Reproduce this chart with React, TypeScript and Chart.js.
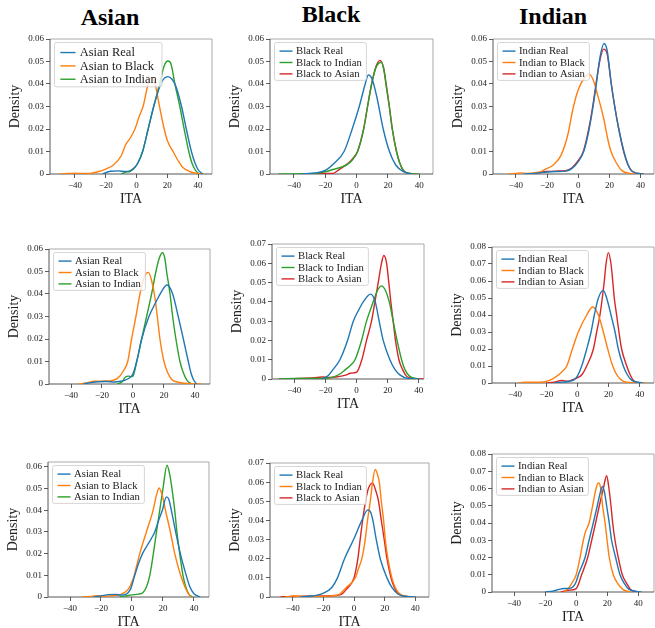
import React, { useEffect, useRef } from "react";
import { Chart, registerables } from "chart.js";

Chart.register(...registerables);

type Pt = [number, number];

// ---------- labels ----------
const columnTitles = ["Asian", "Black", "Indian"];
const asianLabels = ["Asian Real", "Asian to Black", "Asian to Indian"];
const blackLabels = ["Black Real", "Black to Indian", "Black to Asian"];
const indianLabels = ["Indian Real", "Indian to Black", "Indian to Asian"];
const xAxisLabel = "ITA";
const yAxisLabel = "Density";
const xTickStep = 20;
const yTickStep = 0.01;

// ---------- row 1 ----------
const asian1Real: Pt[] = [[-22, 0], [-17, 0.0012], [-12, 0.0014], [-7, 0.0011], [-4, 0.0015], [-1, 0.003], [1, 0.005], [4, 0.01], [7.6, 0.02], [11.2, 0.03], [15.8, 0.04], [18, 0.0425], [20.5, 0.0433], [23, 0.0422], [25.6, 0.039], [29.3, 0.03], [32.4, 0.02], [35.7, 0.01], [38, 0.005], [40, 0.002], [43, 0]];
const asian1ToBlack: Pt[] = [[-50, 0], [-45, 0.0002], [-40, 0.0004], [-35, 0.0002], [-30, 0.0003], [-25, 0.001], [-20, 0.0022], [-15, 0.004], [-10, 0.008], [-7, 0.013], [-4, 0.016], [-1, 0.02], [2, 0.026], [4.3, 0.03], [7.6, 0.04], [10, 0.0425], [12, 0.0405], [13.6, 0.035], [14.7, 0.031], [17.7, 0.021], [20, 0.015], [23.8, 0.01], [27, 0.006], [30, 0.003], [35, 0.001], [40, 0.0002], [44, 0]];
const asian1ToIndian: Pt[] = [[-10, 0], [-7, 0.0008], [-4, 0.0012], [-1, 0.003], [1, 0.005], [4, 0.01], [7.6, 0.02], [11.2, 0.03], [15, 0.04], [18, 0.048], [20.5, 0.0502], [22.5, 0.0488], [25, 0.04], [28.2, 0.03], [31, 0.02], [34, 0.01], [36, 0.005], [38.5, 0.0015], [41, 0]];

const black1Real: Pt[] = [[-35, 0], [-30, 0.0003], [-25, 0.0006], [-20, 0.0016], [-14, 0.005], [-8, 0.01], [-2.8, 0.02], [1.7, 0.03], [5.5, 0.04], [7.5, 0.044], [10, 0.042], [13, 0.034], [17, 0.02], [21, 0.01], [25, 0.004], [30, 0.001], [35, 0]];
const black1ToIndian: Pt[] = [[-50, 0], [-35, 0.0001], [-25, 0.0004], [-20, 0.001], [-15, 0.002], [-10, 0.003], [-6, 0.0042], [-3, 0.006], [0.6, 0.01], [4.5, 0.02], [7, 0.03], [9.6, 0.04], [12.5, 0.0475], [15.8, 0.0497], [17.5, 0.046], [18.7, 0.04], [20.9, 0.03], [22.8, 0.02], [25.5, 0.01], [27.5, 0.005], [30, 0.0015], [34, 0.0002], [40, 0]];
const black1ToAsian: Pt[] = [[-30, 0], [-20, 0.0002], [-15, 0.0003], [-12, 0.0015], [-8, 0.0035], [-5, 0.005], [-2.5, 0.0068], [0.6, 0.01], [4.5, 0.02], [7, 0.03], [9.6, 0.04], [12.5, 0.048], [15, 0.0505], [17.3, 0.047], [18.7, 0.041], [20.9, 0.03], [22.8, 0.02], [25.5, 0.01], [27.5, 0.005], [30, 0.0015], [34, 0.0002], [38, 0]];

const indian1Real: Pt[] = [[-35, 0], [-28, 0.0003], [-20, 0.0009], [-14, 0.0011], [-8, 0.0013], [-4, 0.0025], [0, 0.0055], [3.5, 0.01], [7, 0.02], [9.5, 0.03], [11.6, 0.04], [14, 0.052], [16.5, 0.058], [18.5, 0.055], [21.2, 0.04], [23.4, 0.03], [26, 0.02], [29.3, 0.01], [32, 0.004], [35, 0.001], [42, 0]];
const indian1ToBlack: Pt[] = [[-45, 0], [-40, 0.0003], [-37, 0.0005], [-33, 0.0003], [-28, 0.0005], [-24, 0.001], [-21, 0.0022], [-16, 0.004], [-11, 0.0084], [-6.5, 0.018], [-3.7, 0.028], [-0.1, 0.0373], [4.2, 0.043], [6.7, 0.0445], [9.5, 0.042], [12.7, 0.0344], [16.2, 0.025], [19.1, 0.015], [21, 0.01], [24.4, 0.005], [28, 0.0015], [33, 0.0003], [42, 0]];
const indian1ToAsian: Pt[] = [[-35, 0], [-28, 0.0003], [-20, 0.0011], [-14, 0.0013], [-8, 0.0015], [-4, 0.0028], [0, 0.006], [3.5, 0.0105], [7, 0.021], [9.5, 0.031], [11.6, 0.041], [14, 0.051], [16.3, 0.0555], [18.5, 0.0535], [21.2, 0.04], [23.4, 0.03], [26, 0.02], [29.3, 0.0095], [32, 0.004], [35, 0.001], [42, 0]];

// ---------- row 2 ----------
const asian2Real: Pt[] = [[-32, 0], [-27, 0.0006], [-22, 0.001], [-17, 0.0011], [-12, 0.0009], [-8, 0.0012], [-4, 0.002], [-1, 0.0035], [0, 0.0045], [2.4, 0.01], [5.6, 0.02], [10.3, 0.03], [14.5, 0.036], [18.5, 0.0412], [22, 0.044], [25.6, 0.04], [29.2, 0.03], [32.5, 0.02], [35.7, 0.01], [37.4, 0.005], [39, 0.002], [41, 0]];
const asian2ToBlack: Pt[] = [[-35, 0], [-30, 0.0005], [-25, 0.0012], [-20, 0.0013], [-15, 0.0014], [-10, 0.0025], [-6, 0.006], [-3.4, 0.01], [-0.9, 0.02], [1.9, 0.03], [4.5, 0.04], [7.5, 0.048], [10, 0.0496], [12, 0.046], [13.8, 0.04], [15.7, 0.03], [17.4, 0.02], [20, 0.01], [22.4, 0.005], [25, 0.002], [28, 0.001], [35, 0.0002], [44, 0]];
const asian2ToIndian: Pt[] = [[-10, 0], [-7, 0.001], [-5, 0.003], [-3, 0.0035], [-1, 0.0033], [0, 0.0035], [2.4, 0.01], [5.6, 0.02], [8.8, 0.03], [12, 0.04], [14.8, 0.05], [17, 0.056], [19, 0.0583], [20.5, 0.056], [21.7, 0.05], [23.9, 0.04], [25.6, 0.03], [27.7, 0.02], [30.3, 0.01], [32.5, 0.005], [35, 0.0015], [38, 0]];

const black2Real: Pt[] = [[-22, 0], [-18, 0.002], [-15, 0.005], [-10.7, 0.01], [-5.8, 0.02], [-2.1, 0.03], [1.5, 0.036], [4.3, 0.04], [9, 0.044], [12, 0.04], [14.5, 0.03], [17.1, 0.02], [21.4, 0.01], [24.6, 0.005], [28, 0.002], [33, 0.0003], [40, 0]];
const black2ToIndian: Pt[] = [[-50, 0], [-40, 0.0003], [-30, 0.0003], [-20, 0.0004], [-15, 0.001], [-10, 0.003], [-7, 0.005], [-4, 0.007], [-1, 0.01], [3.2, 0.02], [6.4, 0.03], [10.7, 0.04], [13.5, 0.046], [16, 0.0483], [18.5, 0.046], [21, 0.04], [23.5, 0.03], [26, 0.02], [28.9, 0.01], [31, 0.005], [34, 0.0015], [40, 0]];
const black2ToAsian: Pt[] = [[-50, 0], [-40, 0.0002], [-30, 0.0005], [-22, 0.001], [-17, 0.0008], [-12, 0.0012], [-7, 0.002], [-4, 0.003], [0, 0.0035], [3.4, 0.01], [6.4, 0.02], [9.6, 0.03], [11.8, 0.04], [13.9, 0.05], [16, 0.06], [17.5, 0.064], [19.3, 0.06], [20.7, 0.05], [22, 0.04], [23.5, 0.03], [25, 0.02], [27.2, 0.01], [29.5, 0.005], [32, 0.0015], [36, 0.0003], [43, 0]];

const indian2Real: Pt[] = [[-15, 0], [-10, 0.0005], [-5, 0.001], [-2, 0.002], [0, 0.004], [2.8, 0.01], [6, 0.02], [8.8, 0.03], [10.9, 0.04], [13.5, 0.05], [16.7, 0.0545], [18.8, 0.05], [21.6, 0.04], [24.2, 0.03], [26.3, 0.02], [29.5, 0.01], [32, 0.005], [35, 0.0015], [42, 0]];
const indian2ToBlack: Pt[] = [[-38, 0], [-34, 0.0005], [-28, 0.0004], [-22, 0.0006], [-18, 0.0015], [-14, 0.0035], [-10, 0.0065], [-6.8, 0.01], [-3.2, 0.02], [0.6, 0.03], [6, 0.04], [9.8, 0.0447], [13.5, 0.04], [16.7, 0.03], [19.5, 0.02], [22.7, 0.01], [25.2, 0.005], [29.5, 0.001], [35, 0.0002], [44, 0]];
const indian2ToAsian: Pt[] = [[-20, 0], [-15, 0.0005], [-10, 0.0015], [-6, 0.001], [-3, 0.002], [0, 0.003], [3, 0.005], [6, 0.01], [10.3, 0.02], [12.4, 0.03], [14.5, 0.04], [16, 0.05], [17.3, 0.06], [18.4, 0.07], [19.9, 0.0767], [21.6, 0.07], [22.7, 0.06], [23.7, 0.05], [25.2, 0.04], [26.7, 0.03], [28.4, 0.02], [31.7, 0.01], [33.8, 0.005], [36, 0.0015], [40, 0]];

// ---------- row 3 ----------
const asian3Real: Pt[] = [[-25, 0], [-20, 0.0005], [-15, 0.0011], [-11, 0.0012], [-7, 0.0009], [-4, 0.0012], [-1, 0.0035], [1.8, 0.01], [4, 0.015], [6.8, 0.02], [10, 0.024], [12.5, 0.027], [14.7, 0.03], [17, 0.035], [19.6, 0.04], [22.2, 0.0462], [23.8, 0.045], [25.4, 0.04], [28.2, 0.03], [31.2, 0.02], [35, 0.01], [37.2, 0.005], [40, 0.0015], [44, 0]];
const asian3ToBlack: Pt[] = [[-32, 0], [-27, 0.0003], [-23, 0.0006], [-18, 0.0003], [-13, 0.0006], [-8, 0.001], [-5, 0.002], [-2, 0.004], [0, 0.007], [1.4, 0.01], [5, 0.02], [9.3, 0.03], [13.6, 0.04], [15.8, 0.047], [17.5, 0.0503], [19.5, 0.047], [21.6, 0.04], [24.8, 0.03], [27.6, 0.02], [31.4, 0.01], [34, 0.005], [36, 0.002], [38, 0]];
const asian3ToIndian: Pt[] = [[-8, 0], [-4, 0.0005], [0, 0.001], [4, 0.0013], [7, 0.002], [9.5, 0.005], [11.5, 0.01], [13.8, 0.02], [15.8, 0.03], [17.9, 0.04], [20, 0.05], [22.6, 0.0608], [24.5, 0.056], [25.8, 0.05], [27.6, 0.04], [29, 0.03], [30.8, 0.02], [32.9, 0.01], [34.6, 0.005], [36.5, 0.0015], [39, 0]];

const black3Real: Pt[] = [[-35, 0], [-28, 0.0005], [-24, 0.001], [-20, 0.002], [-14.5, 0.005], [-10.8, 0.01], [-6.2, 0.02], [-0.3, 0.03], [5.1, 0.04], [9, 0.0455], [11, 0.044], [12.3, 0.04], [14.5, 0.03], [17.1, 0.02], [21.5, 0.01], [24.7, 0.005], [28, 0.002], [32, 0.0005], [40, 0]];
const black3ToIndian: Pt[] = [[-45, 0], [-40, 0.0005], [-33, 0.0003], [-25, 0.0003], [-15, 0.0006], [-10, 0.0012], [-5, 0.005], [0.8, 0.01], [3, 0.015], [5.1, 0.02], [7.3, 0.03], [8.8, 0.04], [10.6, 0.05], [12.1, 0.06], [13.8, 0.0666], [15.3, 0.064], [16.5, 0.06], [17.8, 0.05], [19.3, 0.04], [20.4, 0.03], [22.1, 0.02], [24.7, 0.01], [26.9, 0.005], [30, 0.0015], [37, 0]];
const black3ToAsian: Pt[] = [[-48, 0], [-40, 0.0003], [-30, 0.0004], [-20, 0.0005], [-12, 0.0008], [-8, 0.0015], [-5, 0.004], [0, 0.01], [2.5, 0.02], [4, 0.03], [5.6, 0.04], [7.5, 0.05], [9.5, 0.057], [12.1, 0.0595], [14, 0.056], [16, 0.05], [17.8, 0.04], [19.7, 0.03], [21.5, 0.02], [24.1, 0.01], [26.3, 0.005], [29, 0.0015], [38, 0]];

const indian3Real: Pt[] = [[-20, 0], [-15, 0.0005], [-11, 0.0015], [-8, 0.002], [-5, 0.002], [-2, 0.003], [0, 0.006], [1.4, 0.01], [5.7, 0.02], [8.3, 0.03], [11, 0.04], [13.6, 0.05], [16.2, 0.06], [17, 0.0612], [18.2, 0.058], [19.6, 0.05], [21.3, 0.04], [22.8, 0.03], [25.4, 0.02], [28.2, 0.01], [31, 0.005], [34, 0.0015], [42, 0]];
const indian3ToBlack: Pt[] = [[-8, 0], [-5, 0.002], [-2.9, 0.005], [0, 0.01], [2.5, 0.02], [4.6, 0.03], [6, 0.035], [8.3, 0.04], [10.6, 0.05], [12.8, 0.06], [14.3, 0.0633], [15.8, 0.06], [17, 0.05], [18.6, 0.04], [19.9, 0.03], [21.3, 0.02], [23.9, 0.01], [26.7, 0.005], [30, 0.0015], [35, 0]];
const indian3ToAsian: Pt[] = [[-10, 0], [-5, 0.001], [0, 0.002], [3.5, 0.01], [7.4, 0.02], [10, 0.03], [12.5, 0.04], [14.9, 0.05], [17.5, 0.06], [19.6, 0.0674], [21.1, 0.06], [22.4, 0.05], [23.5, 0.04], [25, 0.03], [27.1, 0.02], [29.7, 0.01], [32.5, 0.005], [35, 0.0015], [40, 0]];

// ---------- styles ----------
const BLUE = "#1f77b4";
const ORANGE = "#ff7f0e";
const GREEN = "#2ca02c";
const RED = "#d62728";
const FONT = '"Liberation Serif", "Times New Roman", serif';

interface Series { label: string; data: Pt[]; color: string; }
interface PanelCfg {
  left: number; top: number; right: number; bottom: number;
  xMin: number; xMax: number; yMax: number;
  legendScale: number;
  series: Series[];
}

const mk = (labels: string[], datas: Pt[][], colors: string[]): Series[] =>
  labels.map((l, i) => ({ label: l, data: datas[i], color: colors[i] }));

const panels: PanelCfg[] = [
  { left: 50, top: 39, right: 212, bottom: 174, xMin: -56.2, xMax: 49.1, yMax: 0.06, legendScale: 1.17,
    series: mk(asianLabels, [asian1Real, asian1ToBlack, asian1ToIndian], [BLUE, ORANGE, GREEN]) },
  { left: 270, top: 39, right: 433, bottom: 174, xMin: -55.3, xMax: 48.8, yMax: 0.06, legendScale: 1,
    series: mk(blackLabels, [black1Real, black1ToIndian, black1ToAsian], [BLUE, GREEN, RED]) },
  { left: 493, top: 39, right: 654, bottom: 174, xMin: -54.7, xMax: 48.6, yMax: 0.06, legendScale: 1,
    series: mk(indianLabels, [indian1Real, indian1ToBlack, indian1ToAsian], [BLUE, ORANGE, RED]) },
  { left: 49, top: 249, right: 210, bottom: 384, xMin: -54.2, xMax: 49.7, yMax: 0.06, legendScale: 1,
    series: mk(asianLabels, [asian2Real, asian2ToBlack, asian2ToIndian], [BLUE, ORANGE, GREEN]) },
  { left: 272, top: 244, right: 424, bottom: 379, xMin: -54.3, xMax: 43.3, yMax: 0.07, legendScale: 1,
    series: mk(blackLabels, [black2Real, black2ToIndian, black2ToAsian], [BLUE, GREEN, RED]) },
  { left: 492, top: 247, right: 654, bottom: 383, xMin: -54.8, xMax: 49.2, yMax: 0.08, legendScale: 1,
    series: mk(indianLabels, [indian2Real, indian2ToBlack, indian2ToAsian], [BLUE, ORANGE, RED]) },
  { left: 48, top: 462, right: 209, bottom: 597, xMin: -54.2, xMax: 49.7, yMax: 0.0623, legendScale: 1,
    series: mk(asianLabels, [asian3Real, asian3ToBlack, asian3ToIndian], [BLUE, ORANGE, GREEN]) },
  { left: 270, top: 463, right: 429, bottom: 597, xMin: -54.8, xMax: 48.9, yMax: 0.07, legendScale: 1,
    series: mk(blackLabels, [black3Real, black3ToIndian, black3ToAsian], [BLUE, ORANGE, RED]) },
  { left: 492, top: 454, right: 654, bottom: 592, xMin: -54.2, xMax: 50.1, yMax: 0.08, legendScale: 1,
    series: mk(indianLabels, [indian3Real, indian3ToBlack, indian3ToAsian], [BLUE, ORANGE, RED]) },
];

const titlePos = [
  { cx: 110, top: 4.9 },
  { cx: 331, top: 1.9 },
  { cx: 553, top: 3.9 },
];

const Y_W = 50;
const X_H = 36;
const PAD_T = 8;

function Panel({ cfg }: { cfg: PanelCfg }) {
  const ref = useRef<HTMLCanvasElement>(null);
  const padR = Math.min(4, 655 - cfg.right);
  const cw = Y_W + (cfg.right - cfg.left) + padR;
  const ch = PAD_T + (cfg.bottom - cfg.top) + X_H;

  useEffect(() => {
    const s = cfg.legendScale;
    const framePlugin = {
      id: "frame",
      beforeDatasetsDraw(chart: any) {
        const { ctx, chartArea: a } = chart;
        ctx.save();
        ctx.lineWidth = 0.9;
        ctx.strokeStyle = "#a0a0a0";
        ctx.beginPath();
        ctx.moveTo(a.left, a.top);
        ctx.lineTo(a.right, a.top);
        ctx.lineTo(a.right, a.bottom);
        ctx.stroke();
        ctx.strokeStyle = "#444";
        ctx.beginPath();
        ctx.moveTo(a.left, a.top);
        ctx.lineTo(a.left, a.bottom);
        ctx.lineTo(a.right, a.bottom);
        ctx.stroke();
        ctx.restore();
      },
    };
    const legendPlugin = {
      id: "innerLegend",
      afterDatasetsDraw(chart: any) {
        const { ctx, chartArea: a } = chart;
        const fs = 10.7 * s;
        ctx.save();
        ctx.font = `${fs}px ${FONT}`;
        const ds = chart.data.datasets;
        let maxW = 0;
        ds.forEach((d: any) => { maxW = Math.max(maxW, ctx.measureText(d.label).width); });
        const bx = a.left + 4.5;
        const by = a.top + 3.5;
        const first = 8.6 * s;
        const row = 11.4 * s;
        const bw = 21.5 * s + maxW + 4.5 * s;
        const bh = first + row * (ds.length - 1) + 6.5 * s;
        ctx.beginPath();
        if ((ctx as any).roundRect) (ctx as any).roundRect(bx, by, bw, bh, 2);
        else ctx.rect(bx, by, bw, bh);
        ctx.fillStyle = "rgba(255,255,255,0.8)";
        ctx.fill();
        ctx.lineWidth = 0.8;
        ctx.strokeStyle = "#cccccc";
        ctx.stroke();
        ds.forEach((d: any, i: number) => {
          const y = by + first + i * row;
          ctx.strokeStyle = d.borderColor;
          ctx.lineWidth = 1.4;
          ctx.beginPath();
          ctx.moveTo(bx + 5 * s, y);
          ctx.lineTo(bx + 18 * s, y);
          ctx.stroke();
          ctx.fillStyle = "#222";
          ctx.textBaseline = "middle";
          ctx.textAlign = "left";
          ctx.fillText(d.label, bx + 21.5 * s, y + 0.5);
        });
        ctx.restore();
      },
    };

    const chart = new Chart(ref.current as HTMLCanvasElement, {
      type: "line",
      data: {
        datasets: cfg.series.map((se) => ({
          label: se.label,
          data: se.data.map(([x, y]) => ({ x, y })),
          borderColor: se.color,
          backgroundColor: se.color,
          borderWidth: 1.4,
          pointRadius: 0,
          pointHoverRadius: 0,
          cubicInterpolationMode: "monotone" as const,
          fill: false,
        })),
      },
      options: {
        animation: false,
        responsive: false,
        maintainAspectRatio: false,
        events: [],
        layout: { padding: { top: PAD_T, right: padR, left: 0, bottom: 0 } },
        plugins: { legend: { display: false }, tooltip: { enabled: false }, title: { display: false } },
        scales: {
          x: {
            type: "linear",
            min: cfg.xMin,
            max: cfg.xMax,
            afterFit: (sc: any) => { sc.height = X_H; },
            ticks: {
              stepSize: xTickStep,
              includeBounds: false,
              autoSkip: false,
              maxRotation: 0,
              padding: 2,
              color: "#222",
              font: { family: FONT, size: 9 },
              callback: (v: any) => (Number(v) < 0 ? "\u2212" + Math.abs(Number(v)) : String(v)),
            },
            grid: { display: true, drawOnChartArea: false, drawTicks: true, tickLength: 4, tickColor: "#333", tickWidth: 0.8 },
            border: { display: false },
            title: { display: true, text: xAxisLabel, color: "#222", font: { family: FONT, size: 14 }, padding: { top: 0, bottom: 2.6 } },
          },
          y: {
            type: "linear",
            min: 0,
            max: cfg.yMax,
            afterFit: (sc: any) => { sc.width = Y_W; },
            ticks: {
              stepSize: yTickStep,
              includeBounds: false,
              autoSkip: false,
              padding: 2,
              color: "#222",
              font: { family: FONT, size: 9 },
              callback: (v: any) => (Number(v) === 0 ? "0" : Number(v).toFixed(2)),
            },
            grid: { display: true, drawOnChartArea: false, drawTicks: true, tickLength: 4, tickColor: "#333", tickWidth: 0.8 },
            border: { display: false },
            title: { display: true, text: yAxisLabel, color: "#222", font: { family: FONT, size: 14 }, padding: { top: 6.6, bottom: 0 } },
          },
        },
      },
      plugins: [framePlugin, legendPlugin],
    } as any);
    return () => chart.destroy();
  }, []);

  return (
    <canvas
      ref={ref}
      width={cw}
      height={ch}
      style={{ position: "absolute", left: cfg.left - Y_W, top: cfg.top - PAD_T, width: cw, height: ch }}
    />
  );
}

export default function App() {
  return (
    <div style={{ position: "absolute", left: 0, top: 0, width: 655, height: 628, overflow: "hidden", background: "#fff" }}>
      {columnTitles.map((t, i) => (
        <div
          key={t}
          style={{
            position: "absolute",
            left: titlePos[i].cx,
            top: titlePos[i].top,
            transform: "translateX(-50%)",
            fontFamily: FONT,
            fontWeight: "bold",
            fontSize: 24,
            lineHeight: "24px",
            whiteSpace: "nowrap",
            color: "#000",
          }}
        >
          {t}
        </div>
      ))}
      {panels.map((p, i) => (
        <Panel key={i} cfg={p} />
      ))}
    </div>
  );
}
